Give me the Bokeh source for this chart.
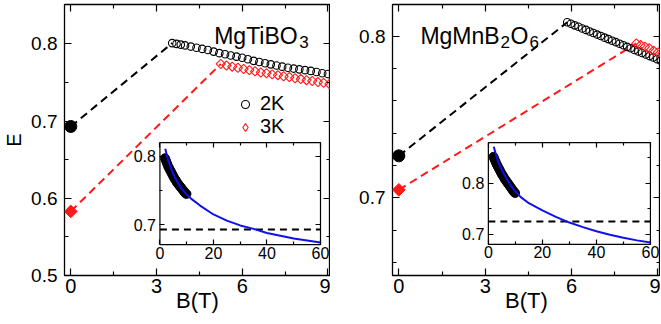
import math
from bokeh.plotting import figure
from bokeh.models import Range1d, LinearAxis, FixedTicker, Legend, LegendItem, Label
from bokeh.layouts import row
from bokeh.embed import file_html
from bokeh.resources import INLINE

FONT = "Liberation Sans"

# ---------------- data: MgTiBO3 (left panel) ----------------
ti_B0 = [0.0]
ti_E0_2K = [0.693]
ti_E0_3K = [0.583]
ti_B_2K = [3.55, 3.7, 3.85, 4.0, 4.2, 4.4, 4.6, 4.8, 5.0, 5.2, 5.4, 5.6, 5.8, 6.0, 6.2,
           6.4, 6.6, 6.8, 7.0, 7.2, 7.4, 7.6, 7.8, 8.0, 8.2, 8.4, 8.6, 8.8, 9.0, 9.2]
ti_E_2K = [0.801, 0.800, 0.799, 0.798, 0.7965, 0.795, 0.7935, 0.792, 0.790, 0.788,
           0.7865, 0.785, 0.7835, 0.782, 0.780, 0.778, 0.7765, 0.775, 0.7735, 0.772,
           0.7705, 0.769, 0.768, 0.767, 0.766, 0.765, 0.7635, 0.762, 0.761, 0.760]
ti_B_3K = [5.25, 5.45, 5.65, 5.85, 6.05, 6.25, 6.45, 6.65, 6.85, 7.05, 7.25, 7.45, 7.65,
           7.85, 8.05, 8.25, 8.45, 8.65, 8.85, 9.05]
ti_E_3K = [0.774, 0.772, 0.7705, 0.769, 0.7675, 0.766, 0.7645, 0.763, 0.762, 0.7605,
           0.7595, 0.758, 0.757, 0.7555, 0.7545, 0.753, 0.752, 0.7505, 0.7495, 0.748]
ti_in_data_B = [1.9, 2.3, 2.7, 3.1, 3.5, 3.9, 4.3, 4.7, 5.1, 5.5, 5.9, 6.3, 6.7, 7.1,
                7.5, 7.9, 8.3, 8.7, 9.1, 9.5, 9.9]
ti_in_data_E = [0.797, 0.793, 0.789, 0.785, 0.782, 0.779, 0.776, 0.773, 0.770, 0.767,
                0.765, 0.762, 0.760, 0.758, 0.756, 0.754, 0.752, 0.750, 0.748, 0.746, 0.745]
ti_in_fit_B = [2, 3, 4, 5, 6, 8, 10, 12, 15, 20, 25, 30, 35, 40, 45, 50, 55, 60]
ti_in_fit_E = [0.811, 0.795, 0.784, 0.774, 0.766, 0.753, 0.744, 0.737, 0.728, 0.715,
               0.706, 0.699, 0.694, 0.688, 0.684, 0.680, 0.677, 0.674]
ti_in_ref_E = [0.693]

# ---------------- data: MgMnB2O6 (right panel) ----------------
mn_B0 = [0.0]
mn_E0_2K = [0.726]
mn_E0_3K = [0.705]
mn_B_2K = [5.85, 5.98, 6.11, 6.24, 6.37, 6.5, 6.63, 6.76, 6.89, 7.02, 7.15, 7.28, 7.41,
           7.54, 7.67, 7.8, 7.93, 8.06, 8.19, 8.32, 8.45, 8.58, 8.71, 8.84, 8.97, 9.1]
mn_E_2K = [0.8086, 0.8077, 0.8067, 0.8058, 0.8048, 0.8039, 0.8029, 0.8020, 0.8010,
           0.8001, 0.7991, 0.7982, 0.7972, 0.7963, 0.7953, 0.7944, 0.7934, 0.7925,
           0.7915, 0.7906, 0.7896, 0.7887, 0.7877, 0.7868, 0.7858, 0.7849]
mn_B_3K = [8.25, 8.4, 8.55, 8.7, 8.85, 9.0, 9.15]
mn_E_3K = [0.7955, 0.7945, 0.7935, 0.7925, 0.791, 0.790, 0.789]
mn_in_data_B = [1.9, 2.3, 2.7, 3.1, 3.5, 3.9, 4.3, 4.7, 5.1, 5.5, 5.9, 6.3, 6.7, 7.1,
                7.5, 7.9, 8.3, 8.7, 9.1, 9.5, 9.9]
mn_in_data_E = [0.852, 0.847, 0.842, 0.837, 0.833, 0.829, 0.825, 0.821, 0.817, 0.814,
                0.810, 0.807, 0.804, 0.801, 0.798, 0.795, 0.792, 0.789, 0.786, 0.783, 0.781]
mn_in_fit_B = [2, 3, 4, 5, 6, 8, 10, 12, 15, 20, 25, 30, 35, 40, 45, 50, 55, 60]
mn_in_fit_E = [0.872, 0.853, 0.838, 0.826, 0.816, 0.798, 0.784, 0.773, 0.761, 0.747,
               0.734, 0.723, 0.714, 0.706, 0.699, 0.693, 0.688, 0.684]
mn_in_ref_E = [0.725]

# ---------------- ticks ----------------
main_xticks = [0, 3, 6, 9]
main_xminor = [1.5, 4.5, 7.5]
ti_yticks = [0.5, 0.6, 0.7, 0.8]
ti_yminor = [0.55, 0.65, 0.75]
mn_yticks = [0.7, 0.8]
mn_yminor = [0.66, 0.68, 0.72, 0.74, 0.76, 0.78]
in_xticks = [0, 20, 40, 60]
in_xminor = [10, 30, 50]
ti_in_yticks = [0.7, 0.8]
ti_in_yminor = [0.75]
mn_in_yticks = [0.7, 0.8]
mn_in_yminor = [0.75, 0.85]

RED = "#ff1a1a"
BLUE = "#1010ee"


def style_ticks(ax, ticks, minor, size, show_labels=True, standoff=6, tin=7, min_in=4):
    ax.ticker = FixedTicker(ticks=ticks, minor_ticks=minor)
    ax.major_tick_in = tin
    ax.major_tick_out = 0
    ax.minor_tick_in = min_in
    ax.minor_tick_out = 0
    ax.major_tick_line_color = "black"
    ax.minor_tick_line_color = "black"
    ax.major_tick_line_width = 1.2
    ax.minor_tick_line_width = 1.2
    ax.axis_line_color = None
    ax.major_label_standoff = standoff
    ax.major_label_text_font = FONT
    ax.major_label_text_font_size = size
    ax.major_label_text_color = "black"
    if not show_labels:
        ax.major_label_standoff = 0
        ax.major_label_overrides = {t: "" for t in ticks}


def inset_range(main, box, inner):
    k = (inner[1] - inner[0]) / (box[1] - box[0])
    return Range1d(inner[0] + (main[0] - box[0]) * k, inner[0] + (main[1] - box[0]) * k)


def panel(width, xr, yr, yticks, yminor, B0, E0_2K, E0_3K, B2, E2, B3, E3,
          box_x, box_y, in_y, in_yticks, in_yminor, dB, dE, fB, fE, refE, ylabel, xlab_align):
    p = figure(width=width, height=322, x_range=Range1d(*xr), y_range=Range1d(*yr),
               output_backend="svg", toolbar_location=None,
               min_border_left=62, min_border_right=0,
               min_border_top=4, min_border_bottom=47)
    p.xgrid.visible = False
    p.ygrid.visible = False
    p.outline_line_color = "black"
    p.outline_line_width = 1.3
    p.background_fill_color = "white"
    p.border_fill_color = "white"

    xa = p.xaxis[0]
    style_ticks(xa, main_xticks, main_xminor, "20px", standoff=3)
    xa.axis_label = "B(T)"
    xa.axis_label_text_font = FONT
    xa.axis_label_text_font_size = "22px"
    xa.axis_label_text_font_style = "normal"
    xa.axis_label_text_color = "black"
    xa.axis_label_text_align = xlab_align
    xa.axis_label_standoff = -8

    ya = p.yaxis[0]
    style_ticks(ya, yticks, yminor, "19px", standoff=7)
    if ylabel:
        ya.axis_label = ylabel
        ya.axis_label_text_font = FONT
        ya.axis_label_text_font_size = "20px"
        ya.axis_label_text_font_style = "normal"
        ya.axis_label_text_color = "black"
        ya.axis_label_standoff = 3
    top = LinearAxis(fixed_location=yr[1])
    style_ticks(top, main_xticks, main_xminor, "19px", show_labels=False)
    p.add_layout(top, "above")
    rgt = LinearAxis(fixed_location=xr[1])
    style_ticks(rgt, yticks, yminor, "19px", show_labels=False)
    p.add_layout(rgt, "right")

    # dashed connecting lines
    p.line([B0[0], B2[0]], [E0_2K[0], E2[0]], line_color="black", line_width=2, line_dash="8 5")
    p.line([B0[0], B3[0]], [E0_3K[0], E3[0]], line_color=RED, line_width=2, line_dash="8 5")
    r2 = p.scatter(B2, E2, marker="circle", size=7.5, fill_color=None, line_color="black", line_width=1.1)
    p.scatter(B3, E3, marker="square", angle=math.pi / 4, size=6.5, fill_color=None,
              line_color=RED, line_width=1.1)
    # muted (invisible) proxy of the 3K series, used only for the legend glyph
    r3 = p.scatter(B3, E3, marker="diamond", size=10, fill_color=None, line_color=RED,
                   line_width=1.1, muted_alpha=0)
    r3.muted = True
    p.scatter(B0, E0_2K, marker="circle", size=12, color="black")
    p.scatter(B0, E0_3K, marker="square", angle=math.pi / 4, size=9, color=RED)

    # inset
    ix = (in_xticks[0], in_xticks[-1])
    p.extra_x_ranges = {"ix": inset_range(xr, box_x, ix)}
    p.extra_y_ranges = {"iy": inset_range(yr, box_y, in_y)}
    p.quad(left=[ix[0]], right=[ix[1]], bottom=[in_y[0]], top=[in_y[1]],
           x_range_name="ix", y_range_name="iy", fill_color="white",
           line_color="black", line_width=1.2)
    p.line([ix[0], ix[1]], [refE[0], refE[0]], x_range_name="ix", y_range_name="iy",
           line_color="black", line_width=2, line_dash="7 5")
    p.scatter(dB, dE, marker="circle", size=9, color="black", x_range_name="ix", y_range_name="iy")
    p.line(fB, fE, line_color=BLUE, line_width=2, x_range_name="ix", y_range_name="iy")

    ib = LinearAxis(x_range_name="ix", y_range_name="iy", fixed_location=in_y[0], bounds=ix)
    style_ticks(ib, in_xticks, in_xminor, "16px", standoff=2, tin=5, min_in=3)
    p.add_layout(ib, "below")
    it = LinearAxis(x_range_name="ix", y_range_name="iy", fixed_location=in_y[1], bounds=ix)
    style_ticks(it, in_xticks, in_xminor, "16px", show_labels=False, tin=5, min_in=3)
    p.add_layout(it, "above")
    il = LinearAxis(x_range_name="ix", y_range_name="iy", fixed_location=ix[0], bounds=in_y)
    style_ticks(il, in_yticks, in_yminor, "16px", standoff=4, tin=5, min_in=3)
    p.add_layout(il, "left")
    ir = LinearAxis(x_range_name="ix", y_range_name="iy", fixed_location=ix[1], bounds=in_y)
    style_ticks(ir, in_yticks, in_yminor, "16px", show_labels=False, tin=5, min_in=3)
    p.add_layout(ir, "right")
    return p, r2, r3


def add_text(p, x, y, text, size, xoff=0, yoff=0):
    p.add_layout(Label(x=x, y=y, x_offset=xoff, y_offset=yoff, text=text,
                       text_font=FONT, text_font_size=size, text_color="black",
                       text_align="left", text_baseline="alphabetic"))


p1, r2a, r3a = panel(330, (-0.22, 9.09), (0.5, 0.851), ti_yticks, ti_yminor,
                     ti_B0, ti_E0_2K, ti_E0_3K, ti_B_2K, ti_E_2K, ti_B_3K, ti_E_3K,
                     (3.12, 8.74), (0.540, 0.672), (0.671, 0.8197), ti_in_yticks, ti_in_yminor,
                     ti_in_data_B, ti_in_data_E, ti_in_fit_B, ti_in_fit_E, ti_in_ref_E, "E", "left")
p2, r2b, r3b = panel(330, (-0.22, 9.09), (0.652, 0.8196), mn_yticks, mn_yminor,
                     mn_B0, mn_E0_2K, mn_E0_3K, mn_B_2K, mn_E_2K, mn_B_3K, mn_E_3K,
                     (3.11, 8.74), (0.6712, 0.7342), (0.680, 0.880), mn_in_yticks, mn_in_yminor,
                     mn_in_data_B, mn_in_data_E, mn_in_fit_B, mn_in_fit_E, mn_in_ref_E, None, "center")

legend = Legend(items=[LegendItem(label="2K", renderers=[r2a]),
                       LegendItem(label="3K", renderers=[r3a])],
                location=(171, 137), padding=0, margin=0, spacing=-1,
                border_line_color=None, background_fill_alpha=0,
                glyph_width=20, glyph_height=20, label_height=20, label_standoff=5,
                label_text_font=FONT, label_text_font_size="20px", label_text_color="black")
p1.add_layout(legend)

# titles with subscripts
add_text(p1, 5.02, 0.8107, "MgTiBO", "23px")
add_text(p1, 5.02, 0.8107, "3", "17px", xoff=85, yoff=-6)
add_text(p2, 0.75, 0.8004, "MgMnB", "23px")
add_text(p2, 0.75, 0.8004, "2", "17px", xoff=80, yoff=-6)
add_text(p2, 0.75, 0.8004, "O", "23px", xoff=90)
add_text(p2, 0.75, 0.8004, "6", "17px", xoff=109, yoff=-6)

layout = row(p1, p2)
open("out.html", "w").write(file_html(layout, INLINE))
